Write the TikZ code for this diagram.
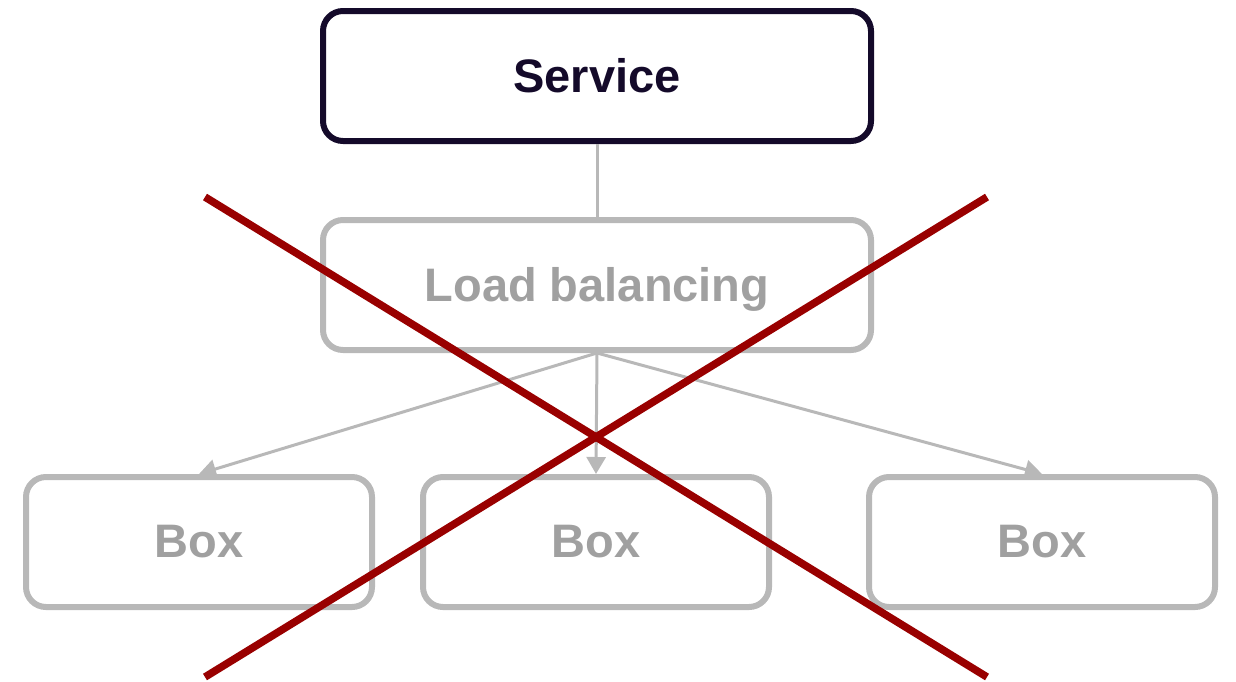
\documentclass[tikz,border=0pt]{standalone}
\usepackage{fontspec}
\setmainfont{Liberation Sans}
\usetikzlibrary{arrows.meta}
\definecolor{navy}{HTML}{140A2A}
\definecolor{boxgray}{HTML}{B8B8B8}
\definecolor{txtgray}{HTML}{A0A0A0}
\definecolor{crossred}{HTML}{990000}
\begin{document}
\begin{tikzpicture}[x=0.5pt, y=-0.5pt,
    box/.style={draw=boxgray, line width=3pt, rounded corners=10pt, text=txtgray,
      font=\fontsize{23.5}{28}\selectfont\bfseries, minimum height=65pt,
      text depth=1pt},
    wide/.style={minimum width=274pt},
    narrow/.style={minimum width=173pt},
    link/.style={boxgray, line width=1.5pt},
    cross/.style={crossred, line width=3.8pt}]
    \useasboundingbox (0,0) rectangle (1236,681);
    \node[box, wide, draw=navy, text=navy] (srv) at (597,76)  {Service};
    \node[box, wide]   (lb) at (597,285)  {Load balancing};
    \node[box, narrow] (b1) at (199,542)  {Box};
    \node[box, narrow] (b2) at (596,542)  {Box};
    \node[box, narrow] (b3) at (1042,542) {Box};
    \draw[link] (srv) -- (lb);
    \draw[link, -{Triangle[length=8.5pt, width=9.5pt]}] (lb.south) -- (b1.north);
    \draw[link, -{Triangle[length=8.5pt, width=9.5pt]}] (lb.south) -- (b2.north);
    \draw[link, -{Triangle[length=8.5pt, width=9.5pt]}] (lb.south) -- (b3.north);
    \coordinate (tl) at (205,197);
    \coordinate (tr) at (987,197);
    \coordinate (bl) at (205,677);
    \coordinate (br) at (987,677);
    \draw[cross] (tl) -- (br);
    \draw[cross] (tr) -- (bl);
  \end{tikzpicture}
\end{document}
